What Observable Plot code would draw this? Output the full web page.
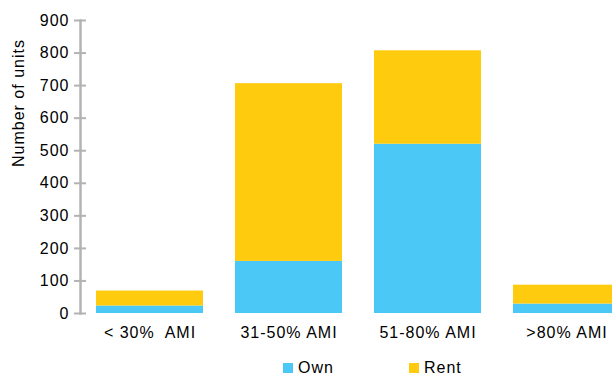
<!DOCTYPE html>
<html>
<head>
<meta charset="utf-8">
<script src="https://cdn.jsdelivr.net/npm/d3@7"></script>
<script src="https://cdn.jsdelivr.net/npm/@observablehq/plot@0.6"></script>
<style>
  html, body { margin: 0; padding: 0; background: #fff; }
  #wrap { width: 612px; height: 377px; overflow: hidden; position: relative; font-family: "Liberation Sans", Arial, sans-serif; }
  #legend { position: relative; height: 27px; font-size: 16px; letter-spacing: 1px; color: #000; }
  .item { position: absolute; top: 9px; display: flex; align-items: center; }
  .sw { width: 10px; height: 10px; margin-right: 5px; }
</style>
</head>
<body>
<div id="wrap"><div id="chart"></div><div id="legend"></div></div>
<script>
const categories = ["< 30%  AMI", "31-50% AMI", "51-80% AMI", ">80% AMI"];
const series = ["Own", "Rent"];
const own = [23, 160, 520, 29];
const rent = [46, 546, 287, 58];
const yTicks = [0, 100, 200, 300, 400, 500, 600, 700, 800, 900];
const colors = ["#4bc8f5", "#fecb0f"];
const yLabel = "Number of units";

const data = [];
categories.forEach((c, i) => {
  data.push({cat: c, series: "Own", value: own[i]});
  data.push({cat: c, series: "Rent", value: rent[i]});
});

const font = "'Liberation Sans', Arial, sans-serif";
const chart = Plot.plot({
  width: 612,
  height: 350,
  marginTop: 20,
  marginBottom: 37,
  marginLeft: 80,
  marginRight: 0,
  style: {fontFamily: font, fontSize: "16px", letterSpacing: "1px", color: "#000", background: "#fff", overflow: "visible"},
  x: {domain: categories, range: [80, 636], paddingInner: 0.23, paddingOuter: 0.115, label: null},
  y: {domain: [0, 900], label: null},
  color: {domain: series, range: colors},
  marks: [
    Plot.barY(data, {x: "cat", y: "value", fill: "series", order: null}),
    Plot.frame({anchor: "left", stroke: "#b3b3b3", strokeWidth: 2.5}),
    Plot.axisY({ticks: yTicks, tickSize: 12, dx: 6, tickPadding: 5, stroke: "#b3b3b3", strokeWidth: 2, fill: "#000", fontSize: 16, label: null, strokeOpacity: 1}),
    Plot.axisX({tickSize: 0, tickPadding: 13, fill: "#000", fontSize: 16, label: null}),
    Plot.text([yLabel], {frameAnchor: "left", dx: -62, rotate: -90, fontSize: 16, fill: "#000"})
  ]
});
document.getElementById("chart").appendChild(chart);

const legend = document.getElementById("legend");
const lefts = [283, 409];
series.forEach((s, i) => {
  const it = document.createElement("div");
  it.className = "item";
  it.style.left = lefts[i] + "px";
  const sw = document.createElement("div");
  sw.className = "sw";
  sw.style.background = colors[i];
  const t = document.createElement("span");
  t.textContent = s;
  it.appendChild(sw); it.appendChild(t);
  legend.appendChild(it);
});
</script>
</body>
</html>
